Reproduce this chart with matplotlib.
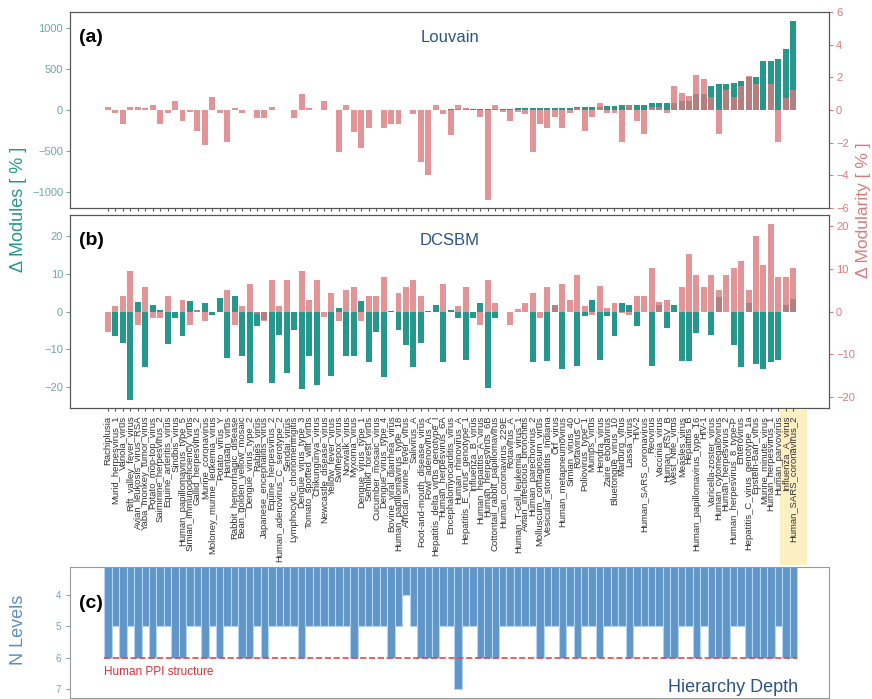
import numpy as np
import matplotlib
matplotlib.use("Agg")
import matplotlib.pyplot as plt
from matplotlib.patches import Rectangle

plt.rcParams['font.family'] = ['Liberation Sans', 'DejaVu Sans']

viruses = [
    "Rachiplusia", "Murid_herpesvirus_1", "Variola_virus", "Rift_valley_fever_virus",
    "Avian_leukosis_virus_RSA", "Yaba_monkey_tumor_virus", "Potato_mop-top_virus",
    "Saimiriine_herpesvirus_2", "Equine_arteritis_virus", "Sindbis_virus",
    "Human_papillomavirus_type_5", "Simian_immunodeficiency_virus", "Gallid_herpesvirus_2",
    "Murine_coronavirus", "Moloney_murine_leukemia_virus", "Potato_virus_Y", "Hantaan_virus",
    "Rabbit_hemorrhagic_disease", "Bean_golden_yellow_mosaic", "Dengue_virus_type_2",
    "Rabies_virus", "Japanese_encephalitis_virus", "Equine_herpesvirus_2",
    "Human_adenovirus_C_serotype_2", "Sendai_virus", "Lymphocytic_choriomeningitis",
    "Dengue_virus_type_3", "Tomato_spotted_wilt_virus", "Chikungunya_virus",
    "Newcastle_disease_virus", "Yellow_fever_virus", "Swinepox_virus", "Norwalk_virus",
    "Myxoma_virus", "Dengue_virus_type_1", "Semliki_forest_virus", "Cucumber_mosaic_virus",
    "Dengue_virus_type_4", "Bovine_viral_diarrhea_virus", "Human_papillomavirus_type_18",
    "African_swine_fever_virus", "Salivirus_A", "Foot-and-mouth_disease_virus",
    "Fowl_adenovirus_A", "Hepatitis_delta_virus_genotype_I", "Human_herpesvirus_6A",
    "Encephalomyocarditis_virus", "Human_rhinovirus_A", "Hepatitis_E_virus_genotype_1",
    "Influenza_B_virus", "Human_hepatitis_A_virus", "Human_herpesvirus_6B",
    "Cottontail_rabbit_papillomavirus", "Human_coronavirus_229E", "Rotavirus_A",
    "Human_T-cell_leukemia_virus_1", "Avian_infectious_bronchitis", "Human_parechovirus_2",
    "Molluscum_contagiosum_virus", "Vesicular_stomatitis_Indiana", "Orf_virus",
    "Human_metapneumovirus", "Simian_virus_40", "Rotavirus_C", "Poliovirus_type_1",
    "Mumps_virus", "Hendra_virus", "Zaire_ebolavirus", "Bluetongue_virus_10", "Marburg_virus",
    "Lassa_virus", "HIV-2", "Human_SARS_coronavirus", "Reovirus", "Vaccinia_virus",
    "Human_RSV_B", "West_Nile_virus", "Measles_virus", "Hepatitis_B",
    "Human_papillomavirus_type_16", "HIV-1", "Varicella-zoster_virus",
    "Human_cytomegalovirus", "Human_herpesvirus_2", "Human_herpesvirus_8_type-P",
    "Enterovirus", "Hepatitis_C_virus_genotype_1a", "Epstein-Barr_virus",
    "Murine_minute_virus", "Human_herpesvirus_1", "Human_parvovirus", "Influenza_A_virus",
    "Human_SARS_coronavirus_2",
]

# Louvain
louv_modules = [0] * 19 + [3] * 12 + [6] * 15 + [10] * 9 + [20] * 8 + [
    35, 35, 35, 40, 50, 50, 65, 65, 65, 65, 80, 80, 80, 80, 115, 115, 200, 200,
    300, 320, 320, 330, 360, 410, 410, 595, 595, 620, 750, 1085]
louv_modularity = [
    0.2, -0.2, -0.86, 0.2, 0.2, 0.15, 0.33, -0.86, -0.2, 0.53,
    -0.67, -0.15, -1.3, -2.16, 0.78, -0.2, -1.94, 0.15, -0.2, 0.0,
    -0.5, -0.5, 0.2, 0.0, 0.0, -0.5, 1.0, 0.15, 0.0, 0.53,
    0.0, -2.55, 0.33, -1.33, -2.35, -1.08, 0.0, -1.08, -0.88, -0.88,
    0.0, -0.25, -3.2, -4.0, 0.33, -0.25, -1.5, 0.33, 0.1, 0.0,
    -0.45, -5.5, 0.33, -0.1, -0.7, -0.15, -0.25, -2.55, -0.88, -1.08,
    -0.45, -1.08, -0.2, 0.1, -1.3, -0.4, 0.4, -0.2, -0.2, -1.95,
    0.3, -0.65, -1.45, 0.2, 0.2, -0.2, 1.5, 1.05, 0.85, 2.15,
    1.9, 0.8, -1.45, 1.2, 0.8, 1.5, 2.1, 1.6, 0.0, 1.6,
    -1.95, 0.75, 1.25]

# DCSBM
dcsbm_modules = [
    0, -6.6, -8.2, -23.4, 2.4, -14.7, 1.75, 0.4, -8.6, -1.75,
    -6.6, 2.8, 0.3, 2.2, -0.9, 3.5, -12.3, 4.2, -11.8, -18.9,
    -3.9, -2.2, -18.9, -6.1, -16.2, -4.8, -20.6, -11.8, -19.3, 0,
    -17.1, 0.9, -11.8, -11.8, 2.8, -13.4, -5.3, -17.3, 0.2, -4.8,
    -8.8, -14.7, -8.2, 0.1, 1.75, -13.4, 0.3, -1.75, -12.7, -1.75,
    2.2, -20.2, -1.75, 0, 0, 0, 0, -13.4, 0, -13.0,
    1.75, -15.3, 0, -14.3, -1.3, 3.1, -12.7, -1.1, -6.6, 2.2,
    1.75, -3.9, 0, -14.5, 1.75, -4.4, 1.75, -13.2, -13.2, -5.7,
    0, -6.1, 3.9, 0, -8.8, -14.7, 2.2, -14.0, -15.3, -13.4,
    -12.7, 1.75, 3.2]
dcsbm_modularity = [
    -4.7, 1.4, 3.5, 9.4, -3.1, 5.7, -1.6, -1.6, 3.5, 0,
    2.7, -3.1, 0.4, -2.3, 0, 0, 5.1, -3.1, 1.3, 6.4,
    -0.5, -2.3, 7.3, 1.3, 7.3, 0, 9.4, 2.7, 7.3, -1.3,
    4.3, -2.3, 5.1, 5.7, -2.2, 3.5, 3.5, 8.0, 0, 4.3,
    5.7, 7.3, 3.5, 0, 0, 6.4, 0, 1.2, 5.7, 0,
    -3.1, 7.3, 2.0, 0, -3.1, 0.5, 2.0, 4.3, -1.6, 5.7,
    1.6, 6.4, 2.7, 8.6, 1.2, -0.8, 5.9, 0.8, 2.0, -0.4,
    -0.8, 3.5, 3.5, 10.1, 2.3, 2.7, 0, 5.7, 13.3, 8.6,
    5.7, 8.6, 4.9, 8.6, 10.1, 11.7, 4.9, 17.5, 10.9, 20.5,
    8.0, 8.0, 10.1]

n_levels = [
    6, 5, 6, 5, 6, 5, 6, 5, 5, 6, 6, 5, 5, 6, 5, 6, 5, 5, 6, 6,
    5, 6, 5, 5, 5, 5, 6, 5, 5, 5, 5, 5, 5, 6, 5, 5, 5, 5, 6, 5,
    4, 5, 6, 6, 6, 5, 5, 7, 5, 5, 6, 6, 6, 5, 5, 5, 5, 5, 6, 5,
    5, 6, 5, 6, 5, 5, 6, 5, 5, 5, 6, 5, 5, 5, 5, 6, 6, 5, 5, 6,
    5, 6, 6, 6, 5, 5, 6, 6, 6, 6, 5, 6, 6]
human_ppi_depth = 6

teal = '#25978c'
pink = '#dc7a7c'
title_col = '#2b5584'
bluebar = '#6196c8'

x = np.arange(len(viruses))
xlim = (-5.1, 96.8)

fig = plt.figure(figsize=(8.72, 6.99), dpi=100)
ax_a = fig.add_axes([0.0803, 0.7024, 0.8704, 0.2804])
ax_b = fig.add_axes([0.0803, 0.4163, 0.8704, 0.2761])
ax_c = fig.add_axes([0.0803, 0.0014, 0.8704, 0.1874])

def style_pair(ax, ax2):
    for a in (ax, ax2):
        for s in a.spines.values():
            s.set_color('#555555')
    ax.tick_params(axis='y', colors='#6fa9a3', labelsize=8, length=3, pad=2)
    ax2.tick_params(axis='y', colors=pink, labelsize=8, length=3, pad=2)
    ax.tick_params(axis='x', length=2, colors='#555555')
    ax.set_xlim(*xlim)
    ax.set_xticks(x)

# panel a
ax_a.bar(x, louv_modules, width=0.8, color=teal)
ax_a.set_ylim(-1200, 1200)
ax_a.set_yticks([-1000, -500, 0, 500, 1000])
ax_a2 = ax_a.twinx()
ax_a2.bar(x, louv_modularity, width=0.8, color=pink, alpha=0.8)
ax_a2.set_ylim(-6, 6)
ax_a2.set_yticks([-6, -4, -2, 0, 2, 4, 6])
style_pair(ax_a, ax_a2)
ax_a.set_xticklabels([])
ax_a.text(0.5, 0.87, 'Louvain', transform=ax_a.transAxes, ha='center', va='center',
          fontsize=12, color=title_col)
ax_a.text(0.012, 0.87, '(a)', transform=ax_a.transAxes, ha='left', va='center',
          fontsize=14, fontweight='bold')

# panel b
ax_b.bar(x, dcsbm_modules, width=0.8, color=teal)
ax_b.set_ylim(-25.5, 25.5)
ax_b.set_yticks([-20, -10, 0, 10, 20])
ax_b2 = ax_b.twinx()
ax_b2.bar(x, dcsbm_modularity, width=0.8, color=pink, alpha=0.8)
ax_b2.set_ylim(-22.5, 22.5)
ax_b2.set_yticks([-20, -10, 0, 10, 20])
style_pair(ax_b, ax_b2)
ax_b.set_xticklabels(viruses, rotation=90, fontsize=6.8, color='#333333')
ax_b.text(0.5, 0.87, 'DCSBM', transform=ax_b.transAxes, ha='center', va='center',
          fontsize=12, color=title_col)
ax_b.text(0.012, 0.87, '(b)', transform=ax_b.transAxes, ha='left', va='center',
          fontsize=14, fontweight='bold')
hl = Rectangle((x[-1] - 1.8, -0.815), 3.6, 0.805, transform=ax_b.get_xaxis_transform(),
               facecolor='#fcefc2', edgecolor='none', clip_on=False, zorder=0)
ax_b.add_patch(hl)

fig.text(0.021, 0.70, 'Δ Modules [ % ]', rotation=90, ha='center', va='center',
         fontsize=13, color=teal)
fig.text(0.99, 0.70, 'Δ Modularity [ % ]', rotation=90, ha='center', va='center',
         fontsize=12.5, color=pink)

# panel c
ax_c.bar(x, n_levels, width=1.0, color=bluebar, edgecolor='#b3d5f2', linewidth=0.8)
ax_c.set_xlim(*xlim)
ax_c.set_ylim(7.29, 3.11)
ax_c.set_yticks([4, 5, 6, 7])
ax_c.set_xticks([])
ax_c.tick_params(axis='y', colors='#7f9fbf', labelsize=7, length=3)
for s in ax_c.spines.values():
    s.set_color('#9a9a9a')
ax_c.plot([x[0] - 0.5, x[-1] + 0.5], [human_ppi_depth, human_ppi_depth], ls='--',
          color='#e8464a', lw=1.2)
ax_c.text(x[0] - 0.5, human_ppi_depth + 0.45, 'Human PPI structure', color='#d9303a',
          fontsize=8.5, ha='left', va='center')
ax_c.text(x[-1] + 0.6, 6.95, 'Hierarchy Depth', color=title_col, fontsize=13,
          ha='right', va='center')
ax_c.text(0.012, 0.72, '(c)', transform=ax_c.transAxes, ha='left', va='center',
          fontsize=14, fontweight='bold')
fig.text(0.021, 0.099, 'N Levels', rotation=90, ha='center', va='center',
         fontsize=13, color='#5b8fc3')

fig.savefig('out.png', dpi=100)
